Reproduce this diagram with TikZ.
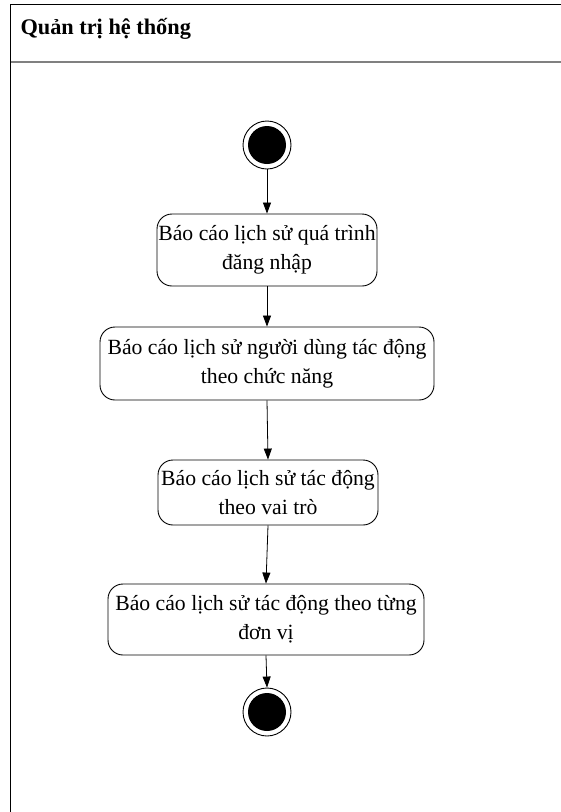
\documentclass[tikz,border=0pt]{standalone}
\usepackage{fontspec}
\setmainfont{Liberation Serif}
\usetikzlibrary{arrows.meta}
\begin{document}
\begin{tikzpicture}[x=1pt,y=-1pt,
  action/.style={draw, line width=0.9pt, rounded corners=15pt, align=center,
    font=\fontsize{21.7}{29}\selectfont, inner sep=0pt},
  flow/.style={draw, line width=0.8pt, -{Triangle[length=11pt,width=8pt]}},
  startdot/.style={circle, fill=black, minimum size=38pt, inner sep=0pt},
  ring/.style={circle, draw, line width=0.9pt, minimum size=48pt, inner sep=0pt}]
  \useasboundingbox (0,0) rectangle (561,812);
  % swimlane frame
  \draw[line width=1.4pt] (10.5,812) -- (10.5,4.5) -- (561,4.5);
  \draw[line width=2pt, gray] (10.5,62) -- (561,62);
  \node[anchor=base west, font=\fontsize{22.3}{24}\selectfont\bfseries] (title) at (17,34) {Quản trị hệ thống};
  % initial node
  \node[ring] (startring) at (267,145) {};
  \node[startdot] (start) at (267,145) {};
  % actions
  \node[action, minimum width=220pt, minimum height=72pt] (a1) at (267,250)
    {Báo cáo lịch sử quá trình\\đăng nhập};
  \node[action, minimum width=334pt, minimum height=73pt] (a2) at (267,363.5)
    {Báo cáo lịch sử người dùng tác động\\theo chức năng};
  \node[action, minimum width=220pt, minimum height=65pt] (a3) at (268,492.5)
    {Báo cáo lịch sử tác động\\theo vai trò};
  \node[action, minimum width=316pt, minimum height=71pt] (a4) at (266,619.5)
    {Báo cáo lịch sử tác động theo từng\\đơn vị};
  % final node
  \node[ring] (endring) at (267,712) {};
  \node[startdot] (end) at (267,712) {};
  % transitions
  \draw[flow] (startring.south) -- (a1.north);
  \draw[flow] (a1.south) -- (a2.north);
  \draw[flow] (a2.south) -- (a3.north);
  \draw[flow] (a3.south) -- (a4.north);
  \draw[flow] (a4.south) -- (endring.north);
\end{tikzpicture}
\end{document}
